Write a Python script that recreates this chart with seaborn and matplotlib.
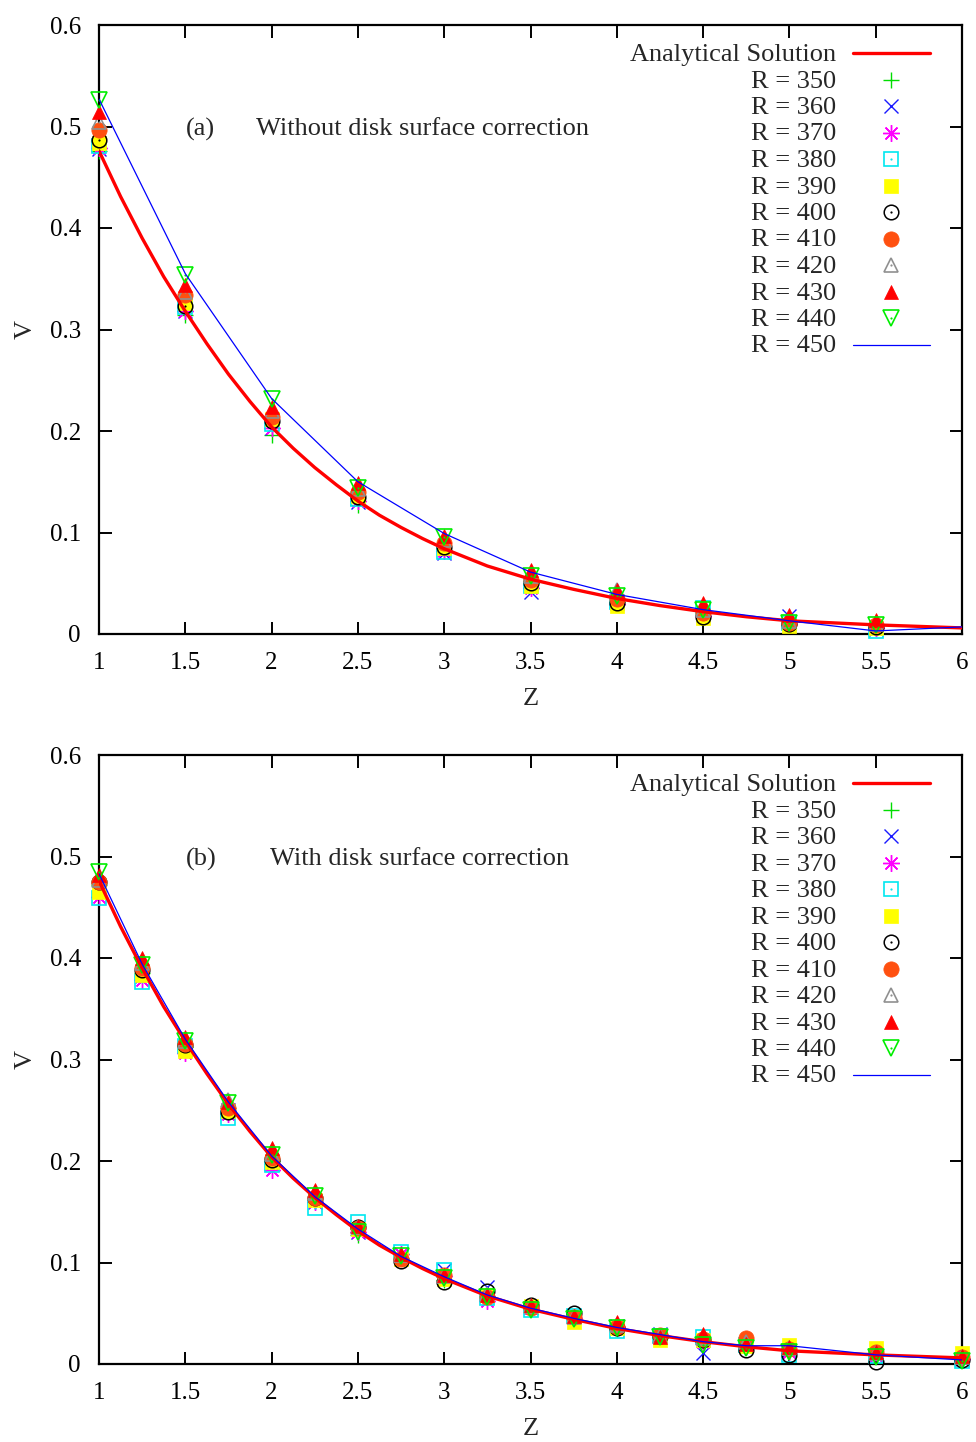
import numpy as np
import pandas as pd
import matplotlib
matplotlib.use("Agg")
import matplotlib.pyplot as plt
import seaborn as sns

sns.set_theme(style="white")
plt.rcParams['font.family'] = ['Liberation Serif', 'DejaVu Serif']
plt.rcParams['mathtext.fontset'] = 'stix'

# ---------------- data ----------------
# Analytical solution (same in both panels)
z_analytic = [1.0, 1.125, 1.25, 1.375, 1.5, 1.625, 1.75, 1.875, 2.0, 2.125, 2.25, 2.375,
              2.5, 2.625, 2.75, 2.875, 3.0, 3.25, 3.5, 3.75,
              4.0, 4.25, 4.5, 4.75, 5.0, 5.25, 5.5, 5.75, 6.0]
v_analytic = [0.476, 0.431, 0.390, 0.352, 0.318, 0.286, 0.256, 0.229, 0.204, 0.183, 0.164, 0.147,
              0.131, 0.117, 0.105, 0.094, 0.084, 0.067, 0.054, 0.044,
              0.035, 0.028, 0.022, 0.017, 0.013, 0.011, 0.009, 0.0075, 0.006]

# Panel (a): without disk surface correction
z_a_pts = [1.0, 1.5, 2.0, 2.5, 3.0, 3.5, 4.0, 4.5, 5.0, 5.5]
a_r350 = [0.476, 0.314, 0.196, 0.127, 0.083, 0.050, 0.032, 0.018, 0.010, 0.006]
a_r360 = [0.478, 0.318, 0.203, 0.130, 0.080, 0.041, 0.031, 0.019, 0.018, 0.005]
a_r370 = [0.479, 0.318, 0.203, 0.131, 0.082, 0.045, 0.030, 0.018, 0.010, 0.006]
a_r380 = [0.481, 0.322, 0.207, 0.133, 0.081, 0.047, 0.032, 0.026, 0.011, 0.003]
a_r390 = [0.484, 0.326, 0.212, 0.136, 0.085, 0.047, 0.028, 0.016, 0.008, 0.006]
a_r400 = [0.487, 0.323, 0.210, 0.135, 0.086, 0.050, 0.031, 0.017, 0.010, 0.007]
a_r410 = [0.497, 0.334, 0.214, 0.140, 0.090, 0.053, 0.034, 0.021, 0.011, 0.009]
a_r420 = [0.504, 0.337, 0.220, 0.143, 0.093, 0.057, 0.043, 0.024, 0.013, 0.010]
a_r430 = [0.514, 0.344, 0.224, 0.149, 0.097, 0.063, 0.043, 0.031, 0.019, 0.014]
a_r440 = [0.526, 0.354, 0.232, 0.144, 0.096, 0.057, 0.037, 0.024, 0.011, 0.009]
z_a_line = [1.0, 1.5, 2.0, 2.5, 3.0, 3.5, 4.0, 4.5, 5.0, 5.5, 6.0]
a_r450 = [0.527, 0.355, 0.232, 0.150, 0.099, 0.061, 0.039, 0.024, 0.013, 0.003, 0.007]

# Panel (b): with disk surface correction
z_b = [1.0, 1.25, 1.5, 1.75, 2.0, 2.25, 2.5, 2.75, 3.0, 3.25, 3.5, 3.75,
       4.0, 4.25, 4.5, 4.75, 5.0, 5.5, 6.0]
b_r350 = [0.472, 0.385, 0.312, 0.252, 0.200, 0.161, 0.127, 0.104, 0.083, 0.067, 0.054, 0.044, 0.034, 0.026, 0.022, 0.017, 0.013, 0.009, 0.005]
b_r360 = [0.470, 0.382, 0.310, 0.250, 0.197, 0.160, 0.130, 0.108, 0.093, 0.076, 0.056, 0.046, 0.037, 0.030, 0.011, 0.019, 0.014, 0.008, 0.005]
b_r370 = [0.460, 0.378, 0.306, 0.246, 0.191, 0.160, 0.130, 0.108, 0.087, 0.062, 0.055, 0.045, 0.036, 0.028, 0.022, 0.018, 0.012, 0.009, 0.005]
b_r380 = [0.459, 0.376, 0.313, 0.242, 0.196, 0.154, 0.140, 0.110, 0.093, 0.065, 0.053, 0.047, 0.033, 0.028, 0.027, 0.019, 0.009, 0.008, 0.003]
b_r390 = [0.465, 0.383, 0.308, 0.249, 0.199, 0.162, 0.133, 0.103, 0.084, 0.068, 0.057, 0.041, 0.035, 0.024, 0.024, 0.018, 0.019, 0.016, 0.011]
b_r400 = [0.475, 0.388, 0.314, 0.248, 0.201, 0.164, 0.135, 0.101, 0.081, 0.072, 0.058, 0.050, 0.035, 0.028, 0.024, 0.014, 0.009, 0.002, 0.004]
b_r410 = [0.475, 0.390, 0.315, 0.252, 0.203, 0.164, 0.134, 0.103, 0.088, 0.066, 0.055, 0.046, 0.036, 0.029, 0.025, 0.026, 0.015, 0.012, 0.007]
b_r420 = [0.477, 0.395, 0.318, 0.260, 0.207, 0.168, 0.135, 0.107, 0.087, 0.069, 0.057, 0.046, 0.038, 0.028, 0.026, 0.022, 0.016, 0.011, 0.007]
b_r430 = [0.482, 0.400, 0.322, 0.258, 0.213, 0.171, 0.136, 0.108, 0.088, 0.068, 0.058, 0.047, 0.041, 0.027, 0.030, 0.020, 0.017, 0.012, 0.008]
b_r440 = [0.485, 0.393, 0.318, 0.257, 0.206, 0.166, 0.130, 0.106, 0.085, 0.066, 0.053, 0.044, 0.035, 0.027, 0.019, 0.016, 0.012, 0.007, 0.003]
b_r450 = [0.483, 0.394, 0.320, 0.258, 0.205, 0.165, 0.133, 0.106, 0.086, 0.068, 0.055, 0.045, 0.036, 0.029, 0.022, 0.018, 0.018, 0.009, 0.004]

radii = [350, 360, 370, 380, 390, 400, 410, 420, 430, 440]
x_ticks = [1, 1.5, 2, 2.5, 3, 3.5, 4, 4.5, 5, 5.5, 6]
x_tick_labels = ["1", "1.5", "2", "2.5", "3", "3.5", "4", "4.5", "5", "5.5", "6"]
y_ticks = [0, 0.1, 0.2, 0.3, 0.4, 0.5, 0.6]
y_tick_labels = ["0", "0.1", "0.2", "0.3", "0.4", "0.5", "0.6"]

# ---------------- styles ----------------
styles = {
    350: dict(marker='+', ms=11, mec='#00dd00', mfc='#00dd00', mew=1.0, dot=False),
    360: dict(marker='x', ms=10, mec='#1a1aff', mfc='#1a1aff', mew=1.0, dot=False),
    370: dict(marker=(8, 2, 0), ms=12, mec='#ff00ff', mfc='#ff00ff', mew=1.0, dot=False),
    380: dict(marker='s', ms=10, mec='#00e8f0', mfc='none', mew=1.2, dot=True),
    390: dict(marker='s', ms=10.5, mec='#ffff00', mfc='#ffff00', mew=0.5, dot=False),
    400: dict(marker='o', ms=10.5, mec='#000000', mfc='none', mew=1.1, dot=True),
    410: dict(marker='o', ms=11, mec='#ff5010', mfc='#ff5010', mew=0.5, dot=False),
    420: dict(marker='^', ms=10, mec='#909090', mfc='none', mew=1.2, dot=True),
    430: dict(marker='^', ms=10, mec='#ff0000', mfc='#ff0000', mew=0.5, dot=False),
    440: dict(marker='v', ms=11, mec='#00ee00', mfc='none', mew=1.2, dot=True),
}
RED = '#ff0000'
BLUE = '#0000ff'
FS = 19
FS_TICK = 18

W, H = 976, 1442
fig = plt.figure(figsize=(W / 100, H / 100), dpi=100)
fig.patch.set_facecolor('white')

def axes_rect(top_px, bottom_px, left_px=99, right_px=962):
    return [left_px / W, 1 - bottom_px / H, (right_px - left_px) / W, (bottom_px - top_px) / H]

ax_a = fig.add_axes(axes_rect(25, 634))
ax_b = fig.add_axes(axes_rect(755, 1364))

def draw_panel(ax, z_pts, series, z_line, v450, letter, caption, cap_x):
    # markers
    for r, vals in zip(radii, series):
        st = styles[r]
        sns.lineplot(x=z_pts, y=vals, ax=ax, sort=False, estimator=None,
                     linestyle='', marker=st['marker'], markersize=st['ms'],
                     markeredgecolor=st['mec'], markerfacecolor=st['mfc'],
                     markeredgewidth=st['mew'], zorder=3, clip_on=False)
        if st['dot']:
            sns.lineplot(x=z_pts, y=vals, ax=ax, sort=False, estimator=None,
                         linestyle='', marker='o', markersize=1.6,
                         markeredgecolor=st['mec'], markerfacecolor=st['mec'],
                         markeredgewidth=0, zorder=3, clip_on=False)
    # analytical solution
    sns.lineplot(x=z_analytic, y=v_analytic, ax=ax, sort=False, estimator=None,
                 color=RED, linewidth=2.4, zorder=4)
    # R = 450 line
    sns.lineplot(x=z_line, y=v450, ax=ax, sort=False, estimator=None,
                 color=BLUE, linewidth=0.9, zorder=5)

    ax.set_xlim(1, 6)
    ax.set_ylim(0, 0.6)
    ax.set_xticks(x_ticks)
    ax.set_xticklabels(x_tick_labels, fontsize=FS_TICK)
    ax.set_yticks(y_ticks)
    ax.set_yticklabels(y_tick_labels, fontsize=FS_TICK)
    ax.tick_params(axis='both', which='both', direction='in', length=9, width=1.4,
                   top=True, right=True, bottom=True, left=True, colors='black',
                   labelcolor='black')
    ax.tick_params(axis='x', pad=13)
    ax.tick_params(axis='y', pad=13)
    for sp in ax.spines.values():
        sp.set_visible(True)
        sp.set_color('black')
        sp.set_linewidth(1.6)
    ax.set_facecolor('white')
    ax.grid(False)
    ax.set_xlabel('Z', fontsize=FS, labelpad=10)
    ax.set_ylabel('V', fontsize=FS, labelpad=9)

    ax.text(1.505, 0.4975, letter, fontsize=FS, ha='left', va='center')
    ax.text(cap_x, 0.4975, caption, fontsize=FS, ha='left', va='center')

    # gnuplot-style key (text right aligned, sample to the right)
    tr = ax.transAxes
    def fx(px):
        return (px - 99) / (962 - 99)
    def fy(py_rel):
        return 1 - py_rel / 609
    text_right = fx(836)
    line_l, line_r = fx(853), fx(930)
    mark_x = fx(891)
    rows = [28 + 26.5 * i for i in range(12)]
    labels = ['Analytical Solution'] + [f'R = {r}' for r in radii] + ['R = 450']
    for i, (lab, yrel) in enumerate(zip(labels, rows)):
        yy = fy(yrel)
        ax.text(text_right, fy(yrel + 2), lab, transform=tr, fontsize=FS,
                ha='right', va='center')
        if i == 0:
            ax.plot([line_l, line_r], [yy, yy], transform=tr, color=RED, linewidth=2.4,
                    clip_on=False)
        elif i == 11:
            ax.plot([line_l, line_r], [yy, yy], transform=tr, color=BLUE, linewidth=0.9,
                    clip_on=False)
        else:
            st = styles[radii[i - 1]]
            ax.plot([mark_x], [yy], transform=tr, linestyle='', marker=st['marker'],
                    markersize=st['ms'], markeredgecolor=st['mec'],
                    markerfacecolor=st['mfc'], markeredgewidth=st['mew'], clip_on=False)
            if st['dot']:
                ax.plot([mark_x], [yy], transform=tr, linestyle='', marker='o',
                        markersize=1.6, markeredgecolor=st['mec'],
                        markerfacecolor=st['mec'], markeredgewidth=0, clip_on=False)

series_a = [a_r350, a_r360, a_r370, a_r380, a_r390, a_r400, a_r410, a_r420, a_r430, a_r440]
series_b = [b_r350, b_r360, b_r370, b_r380, b_r390, b_r400, b_r410, b_r420, b_r430, b_r440]

draw_panel(ax_a, z_a_pts, series_a, z_a_line, a_r450, '(a)',
           'Without disk surface correction', 1.91)
draw_panel(ax_b, z_b, series_b, z_b, b_r450, '(b)',
           'With disk surface correction', 1.99)

fig.savefig('out.png', dpi=100, facecolor='white')
